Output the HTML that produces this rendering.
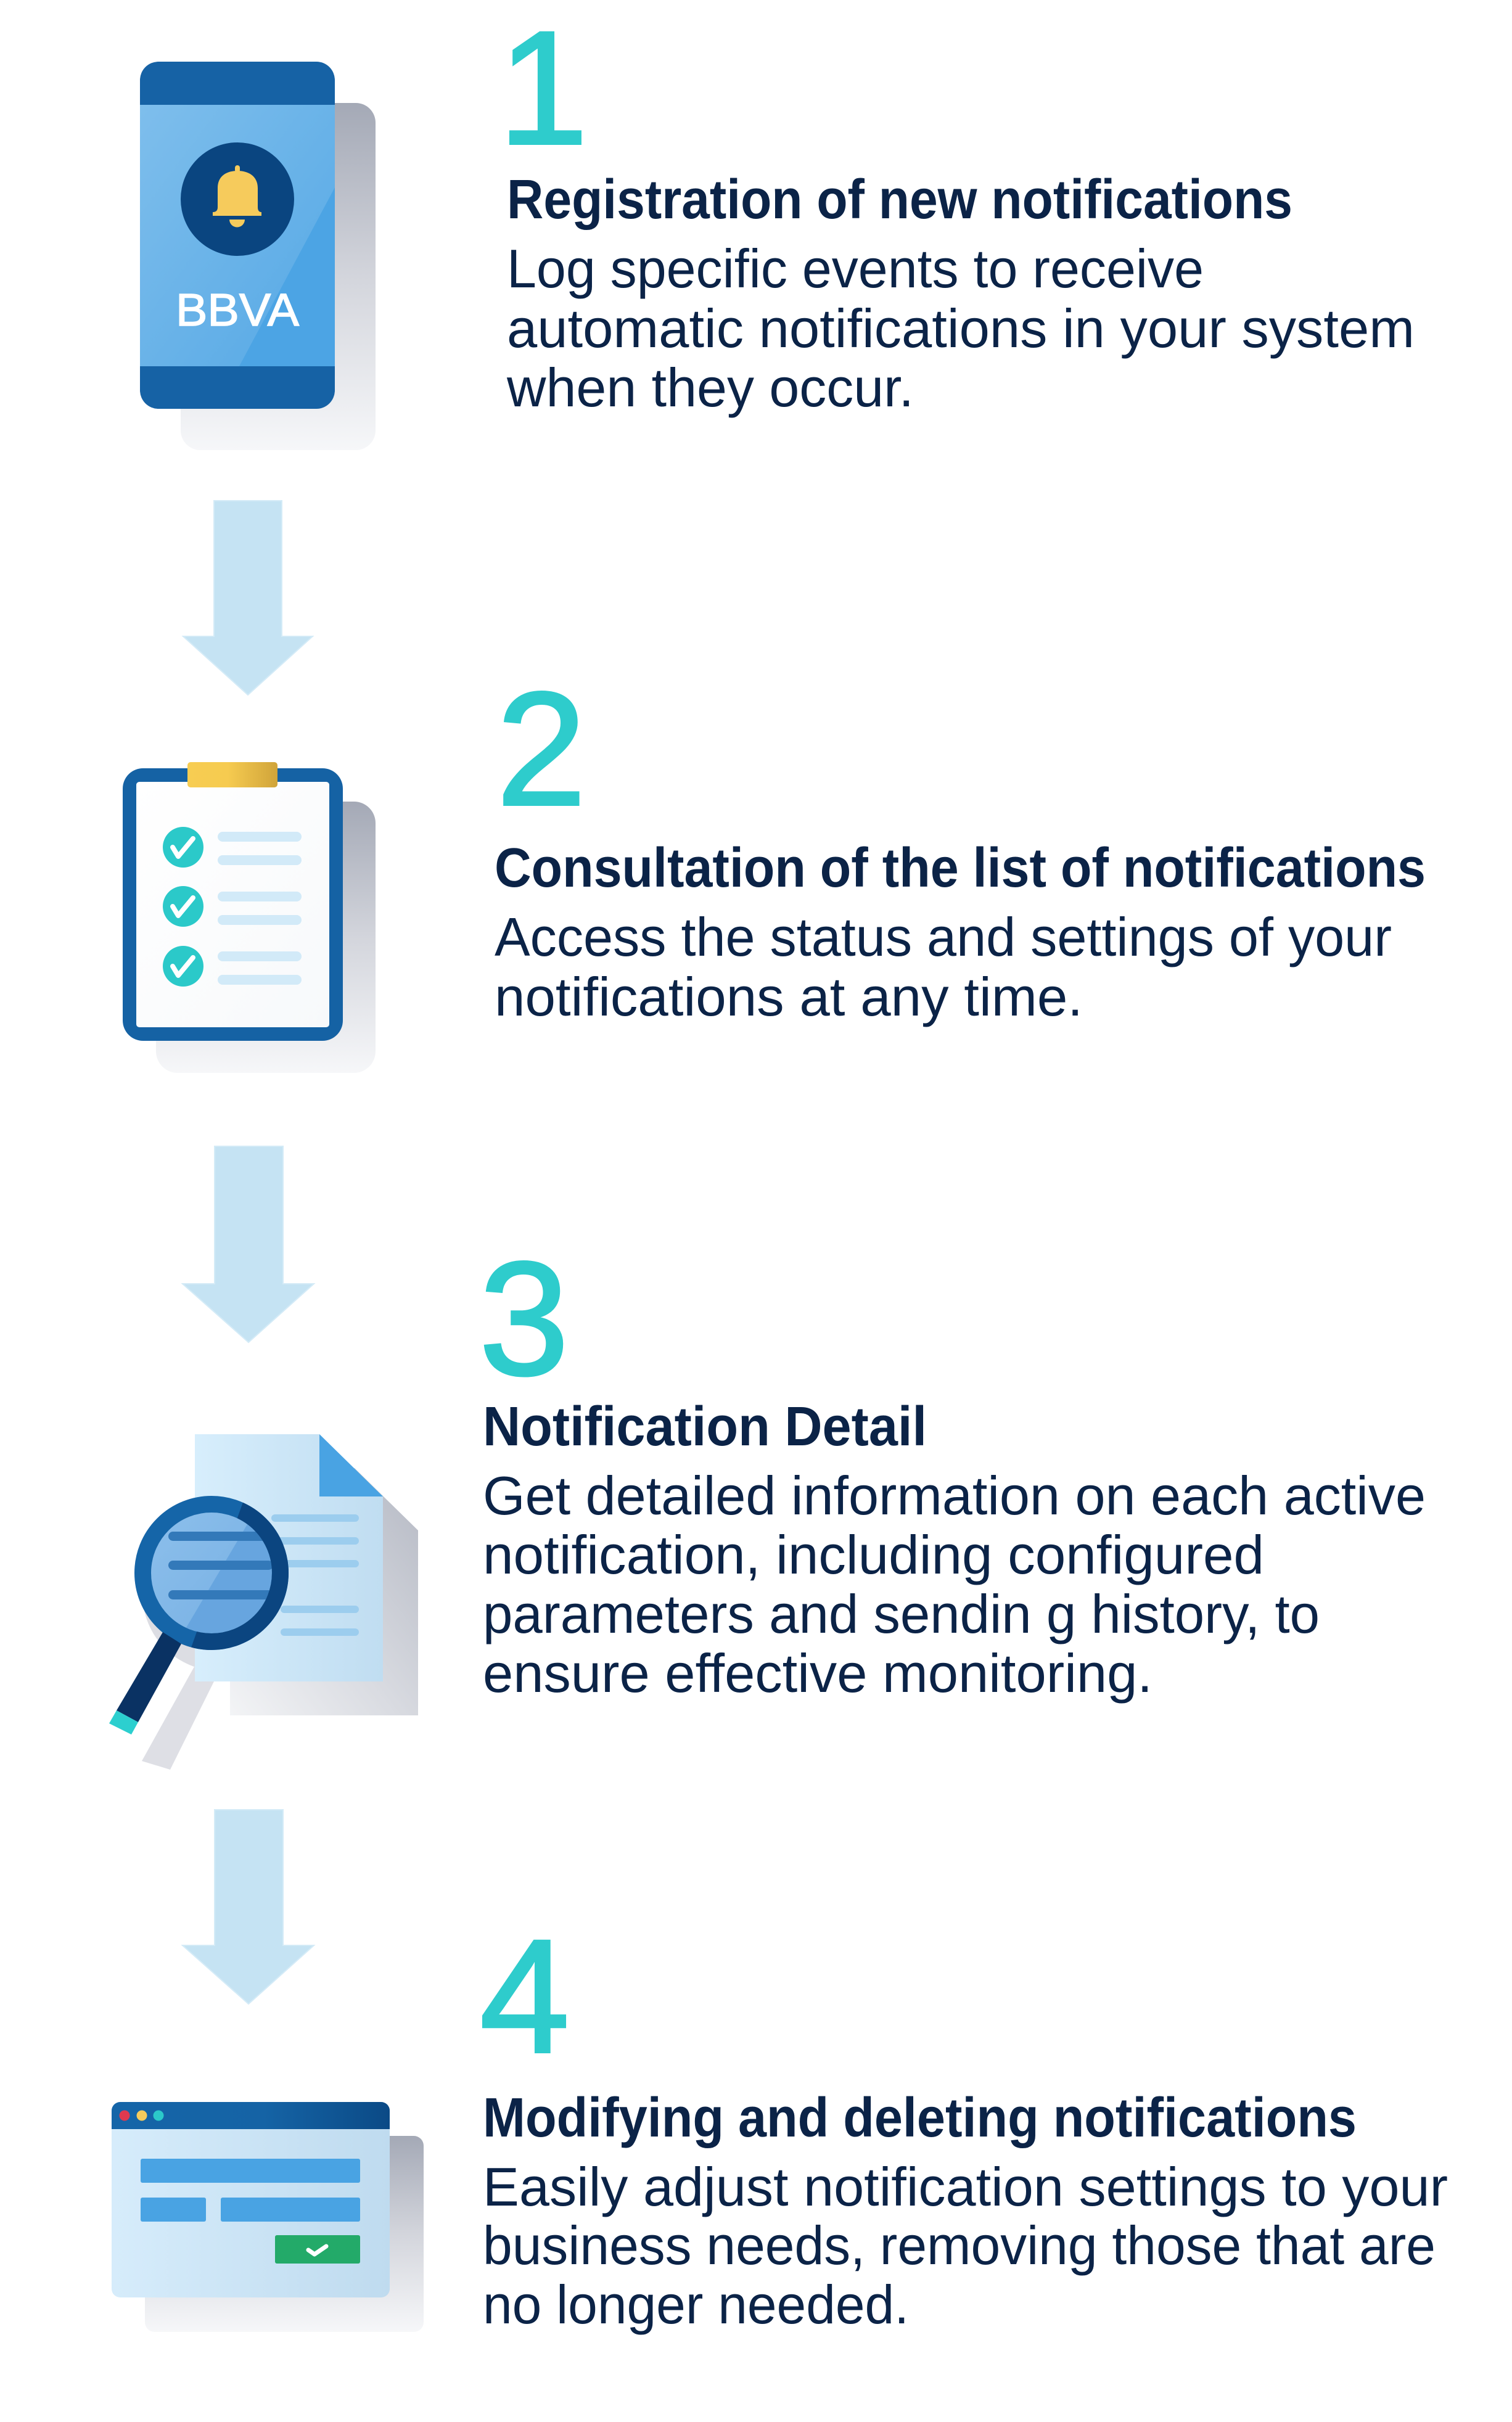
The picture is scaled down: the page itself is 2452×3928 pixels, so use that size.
<!DOCTYPE html>
<html>
<head>
<meta charset="utf-8">
<style>
  html,body{margin:0;padding:0;background:#ffffff;}
  svg{display:block;}
  .h{font-family:"Liberation Sans",Arial,sans-serif;font-weight:bold;font-size:90px;fill:#0b2347;}
  .b{font-family:"Liberation Sans",Arial,sans-serif;font-weight:normal;font-size:88px;fill:#0b2347;}
  .n{font-family:"Liberation Sans",Arial,sans-serif;font-weight:normal;font-size:262px;fill:#2ecccc;stroke:#2ecccc;stroke-width:4;}
</style>
</head>
<body>
<svg width="2452" height="3928" viewBox="0 0 2452 3928" xmlns="http://www.w3.org/2000/svg">
  <defs>
    <linearGradient id="shd" x1="0" y1="0" x2="0" y2="1">
      <stop offset="0" stop-color="#a4a9b6"/>
      <stop offset="0.5" stop-color="#d3d5dc"/>
      <stop offset="1" stop-color="#f6f7f9"/>
    </linearGradient>
    <linearGradient id="shdh" x1="1" y1="0" x2="0" y2="1">
      <stop offset="0" stop-color="#b4b8c3"/>
      <stop offset="0.55" stop-color="#d9dbe1"/>
      <stop offset="1" stop-color="#f3f4f6"/>
    </linearGradient>
    <linearGradient id="scr" x1="0" y1="0" x2="1" y2="1">
      <stop offset="0" stop-color="#7ebeec"/>
      <stop offset="1" stop-color="#55a8e5"/>
    </linearGradient>
    <linearGradient id="gold" x1="0" y1="0" x2="1" y2="0">
      <stop offset="0" stop-color="#f7cd52"/>
      <stop offset="0.45" stop-color="#f6cb50"/>
      <stop offset="1" stop-color="#d0a43a"/>
    </linearGradient>
    <linearGradient id="paper" x1="0" y1="0" x2="1" y2="1">
      <stop offset="0" stop-color="#ffffff"/>
      <stop offset="1" stop-color="#f7f9fb"/>
    </linearGradient>
    <linearGradient id="doc" x1="0" y1="0" x2="1" y2="0">
      <stop offset="0" stop-color="#d7eefc"/>
      <stop offset="1" stop-color="#c0ddf1"/>
    </linearGradient>
    <linearGradient id="win" x1="0" y1="0" x2="1" y2="0">
      <stop offset="0" stop-color="#d6ecfb"/>
      <stop offset="1" stop-color="#bfdbef"/>
    </linearGradient>
    <linearGradient id="bar" x1="0" y1="0" x2="1" y2="0">
      <stop offset="0" stop-color="#1565a8"/>
      <stop offset="0.55" stop-color="#1563a5"/>
      <stop offset="1" stop-color="#0b4a86"/>
    </linearGradient>
    <linearGradient id="lensg" x1="0" y1="0" x2="1" y2="1">
      <stop offset="0" stop-color="#95c5ee"/>
      <stop offset="1" stop-color="#78b1e4"/>
    </linearGradient>
    <clipPath id="lensclip"><circle cx="343" cy="2551" r="98"/></clipPath>
    <clipPath id="ringclip"><polygon points="407,2400 520,2400 520,2700 300,2700"/></clipPath>
    <clipPath id="winclip"><rect x="181" y="3409" width="451" height="317" rx="14"/></clipPath>
  </defs>

  <!-- ================= SECTION 1: phone ================= -->
  <rect x="293" y="167" width="316" height="563" rx="32" fill="url(#shd)"/>
  <rect x="227" y="100" width="316" height="563" rx="30" fill="#1662a5"/>
  <rect x="227" y="170" width="316" height="424" fill="url(#scr)"/>
  <polygon points="543,304 543,594 388,594" fill="#4ca4e4"/>
  <circle cx="385" cy="323" r="92" fill="#0a4580"/>
  <rect x="381" y="268" width="8" height="12" rx="4" fill="#f6cb5c"/>
  <path d="M345,350 L345,344 Q353,344 353,336 L353,305 C353,285 368,277 385,277 C402,277 418,285 418,305 L418,336 Q418,344 424,344 L424,350 Z" fill="#f6cb5c"/>
  <path d="M372,356 A12.5,12.5 0 0 0 397,356 Z" fill="#f6cb5c"/>
  <text x="285" y="528" font-family="'Liberation Sans',Arial,sans-serif" font-size="74" fill="#ffffff" stroke="#ffffff" stroke-width="1.5" textLength="200" lengthAdjust="spacingAndGlyphs">BBVA</text>

  <!-- arrow 1 -->
  <polygon points="347,812 457,812 457,1032 507,1032 402,1127 297,1032 347,1032" fill="#c5e3f3" stroke="#d4ebf7" stroke-width="2"/>

  <!-- ================= SECTION 2: clipboard ================= -->
  <rect x="253" y="1300" width="356" height="440" rx="35" fill="url(#shd)"/>
  <rect x="199" y="1246" width="357" height="442" rx="33" fill="#1562a4"/>
  <rect x="221" y="1268" width="313" height="398" rx="5" fill="url(#paper)"/>
  <rect x="304" y="1236" width="146" height="41" rx="5" fill="url(#gold)"/>
  <g fill="#2bc9c9">
    <circle cx="297" cy="1374" r="33"/>
    <circle cx="297" cy="1470" r="33"/>
    <circle cx="297" cy="1567" r="33"/>
  </g>
  <g fill="none" stroke="#ffffff" stroke-width="8" stroke-linecap="round" stroke-linejoin="round">
    <polyline points="280,1374 289,1389 313,1360"/>
    <polyline points="280,1470 289,1485 313,1456"/>
    <polyline points="280,1567 289,1582 313,1553"/>
  </g>
  <g fill="#d2eaf8">
    <rect x="353" y="1349" width="136" height="16" rx="8"/>
    <rect x="353" y="1387" width="136" height="16" rx="8"/>
    <rect x="353" y="1446" width="136" height="16" rx="8"/>
    <rect x="353" y="1484" width="136" height="16" rx="8"/>
    <rect x="353" y="1543" width="136" height="16" rx="8"/>
    <rect x="353" y="1581" width="136" height="16" rx="8"/>
  </g>

  <!-- arrow 2 -->
  <polygon points="348,1859 459,1859 459,2082 509,2082 403,2177 296,2082 348,2082" fill="#c5e3f3" stroke="#d4ebf7" stroke-width="2"/>

  <!-- ================= SECTION 3: document + magnifier ================= -->
  <polygon points="373,2381 575,2381 678,2482 678,2782 373,2782" fill="url(#shdh)"/>
  <polygon points="315,2703 347,2727 276,2870 230,2856" fill="#dedfe5"/>
  <circle cx="356" cy="2585" r="125" fill="#dcdde3"/>
  <polygon points="316,2326 518,2326 621,2427 621,2727 316,2727" fill="url(#doc)"/>
  <polygon points="518,2326 621,2427 518,2427" fill="#49a3e3"/>
  <g fill="#9ccdee">
    <rect x="440" y="2456" width="142" height="12" rx="6"/>
    <rect x="440" y="2493" width="142" height="12" rx="6"/>
    <rect x="440" y="2530" width="142" height="12" rx="6"/>
    <rect x="455" y="2604" width="127" height="12" rx="6"/>
    <rect x="455" y="2641" width="127" height="12" rx="6"/>
  </g>
  <!-- lens -->
  <circle cx="343" cy="2551" r="98" fill="#67a5df"/>
  <g clip-path="url(#lensclip)">
    <polygon points="230,2440 420,2440 290,2660 230,2660" fill="url(#lensg)" opacity="0.85"/>
    <rect x="273" y="2484" width="170" height="15" rx="7.5" fill="#3379b9"/>
    <rect x="273" y="2531" width="170" height="15" rx="7.5" fill="#3379b9"/>
    <rect x="273" y="2579" width="170" height="15" rx="7.5" fill="#3379b9"/>
  </g>
  <circle cx="343" cy="2551" r="111.5" fill="none" stroke="#1565a8" stroke-width="27"/>
  <g clip-path="url(#ringclip)">
    <circle cx="343" cy="2551" r="111.5" fill="none" stroke="#0b4580" stroke-width="27"/>
  </g>
  <!-- handle -->
  <polygon points="264,2647 294,2666 224,2793 189,2774" fill="#0a3263"/>
  <polygon points="189,2774 224,2793 213,2813 177,2795" fill="#2ccfcf"/>

  <!-- arrow 3 -->
  <polygon points="348,2935 459,2935 459,3155 509,3155 403,3250 296,3155 348,3155" fill="#c5e3f3" stroke="#d4ebf7" stroke-width="2"/>

  <!-- ================= SECTION 4: window ================= -->
  <rect x="235" y="3464" width="452" height="318" rx="16" fill="url(#shd)"/>
  <g clip-path="url(#winclip)">
    <rect x="181" y="3409" width="451" height="317" fill="url(#win)"/>
    <rect x="181" y="3409" width="451" height="44" fill="url(#bar)"/>
  </g>
  <circle cx="202" cy="3431" r="8.5" fill="#e0394f"/>
  <circle cx="230" cy="3431" r="8.5" fill="#f6cb5c"/>
  <circle cx="257" cy="3431" r="8.5" fill="#2bc9c9"/>
  <g fill="#49a3e3">
    <rect x="228" y="3501" width="356" height="39" rx="3"/>
    <rect x="228" y="3564" width="106" height="39" rx="3"/>
    <rect x="358" y="3564" width="226" height="39" rx="3"/>
  </g>
  <rect x="446" y="3625" width="138" height="46" rx="3" fill="#23aa69"/>
  <polyline points="500,3649 510,3656 529,3643" fill="none" stroke="#ffffff" stroke-width="7" stroke-linecap="round" stroke-linejoin="round"/>

  <!-- ================= TEXT ================= -->
  <text class="n" x="808" y="233">1</text>
  <text class="h" x="822" y="354" textLength="1274" lengthAdjust="spacingAndGlyphs">Registration of new notifications</text>
  <text class="b" x="822" y="466" textLength="1130" lengthAdjust="spacingAndGlyphs">Log specific events to receive</text>
  <text class="b" x="822" y="563" textLength="1472" lengthAdjust="spacingAndGlyphs">automatic notifications in your system</text>
  <text class="b" x="822" y="659" textLength="660" lengthAdjust="spacingAndGlyphs">when they occur.</text>

  <text class="n" x="805" y="1305">2</text>
  <text class="h" x="802" y="1438" textLength="1510" lengthAdjust="spacingAndGlyphs">Consultation of the list of notifications</text>
  <text class="b" x="802" y="1550" textLength="1455" lengthAdjust="spacingAndGlyphs">Access the status and settings of your</text>
  <text class="b" x="802" y="1647" textLength="954" lengthAdjust="spacingAndGlyphs">notifications at any time.</text>

  <text class="n" x="777" y="2229">3</text>
  <text class="h" x="783" y="2344" textLength="720" lengthAdjust="spacingAndGlyphs">Notification Detail</text>
  <text class="b" x="783" y="2456" textLength="1529" lengthAdjust="spacingAndGlyphs">Get detailed information on each active</text>
  <text class="b" x="783" y="2552" textLength="1267" lengthAdjust="spacingAndGlyphs">notification, including configured</text>
  <text class="b" x="783" y="2648" textLength="1357" lengthAdjust="spacingAndGlyphs">parameters and sendin g history, to</text>
  <text class="b" x="783" y="2744" textLength="1086" lengthAdjust="spacingAndGlyphs">ensure effective monitoring.</text>

  <text class="n" x="778" y="3328">4</text>
  <text class="h" x="783" y="3465" textLength="1417" lengthAdjust="spacingAndGlyphs">Modifying and deleting notifications</text>
  <text class="b" x="783" y="3577" textLength="1565" lengthAdjust="spacingAndGlyphs">Easily adjust notification settings to your</text>
  <text class="b" x="783" y="3672" textLength="1545" lengthAdjust="spacingAndGlyphs">business needs, removing those that are</text>
  <text class="b" x="783" y="3768" textLength="691" lengthAdjust="spacingAndGlyphs">no longer needed.</text>
</svg>
</body>
</html>
